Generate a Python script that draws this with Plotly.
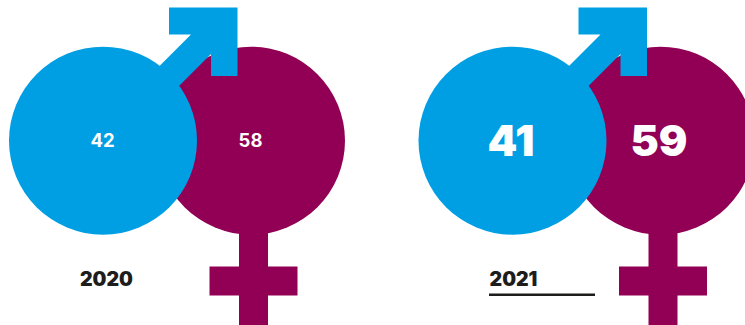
import plotly.graph_objects as go

# Gender split per year
years = ["2020", "2021"]
men = [42, 41]
women = [58, 59]

MALE_BLUE = "#009FE3"
FEMALE_PURPLE = "#910055"
INK = "#1D1D1B"

WIDTH, HEIGHT = 745, 325
YEAR_STEP = 409.5      # horizontal distance between the two year groups
RADIUS = 94
CY = 140.7
MALE_CX = 103
FEMALE_CX = 251

# Arrow outline, relative to the left edge of a year group; the shaft runs into the ring
ARROW_X = [150, 191, 169, 169, 237.5, 237.5, 211, 211, 170]
ARROW_Y = [75.5, 34.6, 34.6, 7.5, 7.5, 76, 76, 54, 95]


def polygon(xs, ys, dx):
    pts = [f"{x + dx},{y}" for x, y in zip(xs, ys)]
    return "M" + "L".join(pts) + "Z"


shapes = []
for i in range(len(years)):
    dx = i * YEAR_STEP
    # female symbol: stem, crossbar, ring
    shapes.append(dict(type="rect", x0=239 + dx, x1=268 + dx, y0=225, y1=326,
                       fillcolor=FEMALE_PURPLE, line_width=0))
    shapes.append(dict(type="rect", x0=209.5 + dx, x1=297.5 + dx, y0=266.5, y1=295.5,
                       fillcolor=FEMALE_PURPLE, line_width=0))
    shapes.append(dict(type="circle", x0=FEMALE_CX - RADIUS + dx, x1=FEMALE_CX + RADIUS + dx,
                       y0=CY - RADIUS, y1=CY + RADIUS,
                       fillcolor=FEMALE_PURPLE, line_width=0))
    # male symbol: arrow, ring
    shapes.append(dict(type="path", path=polygon(ARROW_X, ARROW_Y, dx),
                       fillcolor=MALE_BLUE, line_width=0))
    shapes.append(dict(type="circle", x0=MALE_CX - RADIUS + dx, x1=MALE_CX + RADIUS + dx,
                       y0=CY - RADIUS, y1=CY + RADIUS,
                       fillcolor=MALE_BLUE, line_width=0))

# rule under the 2021 label
shapes.append(dict(type="line", x0=489, x1=595, y0=294.7, y1=294.7,
                   line=dict(color=INK, width=2.4)))

fig = go.Figure()

# 2020 labels are small, 2021 labels are the highlighted ones
label_font = [dict(family="Inter", size=18.5, color="white", weight=700),
              dict(family="Inter", size=42.5, color="white", weight=900)]
label_y = [142, 145.5]
label_shift = [-0.5, -1.5]
for i in range(len(years)):
    dx = i * YEAR_STEP + label_shift[i]
    fig.add_trace(go.Scatter(
        x=[MALE_CX + dx, FEMALE_CX + dx], y=[label_y[i], label_y[i]],
        mode="text", text=[str(men[i]), str(women[i])],
        textposition="middle center", textfont=label_font[i],
        hoverinfo="skip", showlegend=False))

year_x = [106.5, 513.5]
fig.add_trace(go.Scatter(
    x=year_x, y=[281, 281], mode="text", text=years,
    textposition="middle center",
    textfont=dict(family="Inter", size=19.5, color=INK, weight=900),
    hoverinfo="skip", showlegend=False))

fig.update_layout(
    width=WIDTH, height=HEIGHT,
    margin=dict(l=0, r=0, t=0, b=0),
    paper_bgcolor="white", plot_bgcolor="white",
    xaxis=dict(range=[0, WIDTH], visible=False, fixedrange=True),
    yaxis=dict(range=[HEIGHT, 0], visible=False, fixedrange=True),
    shapes=[dict(s, layer="below") for s in shapes],
)

fig.write_html("out.html", config={"displayModeBar": False})
